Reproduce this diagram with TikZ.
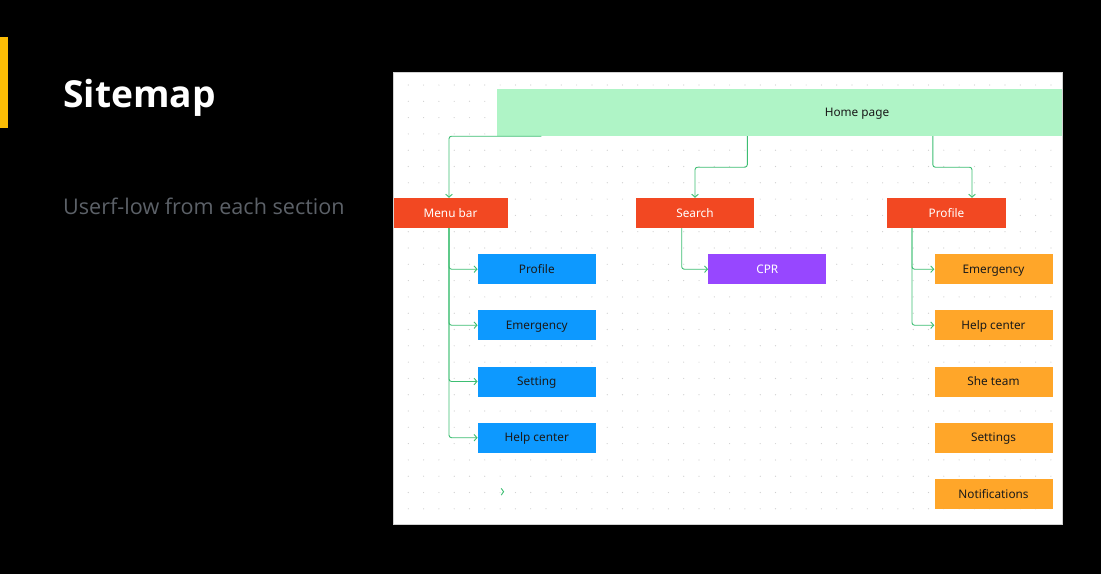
\documentclass[tikz,border=0pt]{standalone}
\usepackage{fontspec}
\setmainfont{Noto Sans}
\newfontfamily\titlefont{Open Sans}
\usetikzlibrary{arrows.meta}
\definecolor{accentbar}{HTML}{FBBC05}
\definecolor{subgray}{HTML}{5C6168}
\definecolor{gridgray}{HTML}{CFCFCF}
\definecolor{homegreen}{HTML}{AFF4C6}
\definecolor{headred}{HTML}{F24822}
\definecolor{itemblue}{HTML}{0D99FF}
\definecolor{itempurple}{HTML}{9747FF}
\definecolor{itemorange}{HTML}{FFA629}
\definecolor{linkgreen}{HTML}{3DBE72}
\definecolor{boxtext}{HTML}{1A1A1A}
\begin{document}
\begin{tikzpicture}[x=1pt,y=-1pt,
  box/.style={rectangle, inner sep=0pt, minimum width=118pt, minimum height=30pt,
    text height=8.4pt, text depth=0pt,
    font=\fontsize{11.8}{13}\selectfont, text=boxtext},
  head/.style={box, fill=headred, text=white, font=\fontsize{11.8}{13}\selectfont\bfseries},
  bluebox/.style={box, fill=itemblue},
  orangebox/.style={box, fill=itemorange},
  link/.style={draw=linkgreen, line width=0.9pt, rounded corners=2.5pt,
    -{Straight Barb[length=3pt,width=6.5pt]}},
]
\useasboundingbox (0,0) rectangle (1101,574);
\fill[black] (0,0) rectangle (1101,574);

% slide header
\fill[accentbar] (0,37) rectangle (8,128);
\node[anchor=base west, inner sep=0pt, text=white,
  font=\titlefont\fontsize{37.2}{40}\selectfont\bfseries] (title) at (63,107) {Sitemap};
\node[anchor=base west, inner sep=0pt, text=subgray,
  font=\titlefont\fontsize{21.6}{24}\selectfont] (subtitle) at (63,214) {Userf-low from each section};

% board
\fill[white] (393,72) rectangle (1062,524);
\begin{scope}
\clip (393,72) rectangle (1062,524);
\foreach \x in {408.3,423.6,...,1062}
  \foreach \y in {85,101.3,...,524}
    \fill[gridgray] (\x,\y) circle (0.6);

\node[box, fill=homegreen, minimum width=720pt, minimum height=47pt] (home) at (857,112.5) {Home page};

\node[head, minimum width=115pt] (menu) at (450.5,213) {Menu bar};
\node[head] (search) at (695,213) {Search};
\node[head, minimum width=118.7pt] (profile) at (946.5,213) {Profile};

\node[bluebox] (mprofile) at (536.8,269.2) {Profile};
\node[bluebox] (memerg) at (536.8,325.2) {Emergency};
\node[bluebox] (msetting) at (536.8,381.5) {Setting};
\node[bluebox] (mhelp) at (536.8,437.7) {Help center};

\node[box, fill=itempurple, text=white] (cpr) at (767.3,269.2) {CPR};

\node[orangebox] (pemerg) at (993.5,269.2) {Emergency};
\node[orangebox] (phelp) at (993.5,325.2) {Help center};
\node[orangebox] (pteam) at (993.5,381.5) {She team};
\node[orangebox] (psettings) at (993.5,437.7) {Settings};
\node[orangebox] (pnotif) at (993.5,493.8) {Notifications};

% links from the home page
\draw[link] ([xshift=44.5pt]home.south west) -| ([xshift=-1.5pt]menu.north);
\draw[link] ([xshift=250.5pt]home.south west) -- ++(0,31) -| (search.north);
\draw[link] ([xshift=436pt]home.south west) -- ++(0,31) -| ([xshift=25.5pt]profile.north);

% menu bar branches
\foreach \n in {mprofile,memerg,msetting,mhelp}
  \draw[link] ([xshift=-1.5pt]menu.south) |- (\n.west);

% search branch
\draw[link] ([xshift=-13.3pt]search.south) |- (cpr.west);

% profile branches
\foreach \n in {pemerg,phelp}
  \draw[link] ([xshift=-34.5pt]profile.south) |- (\n.west);

% loose arrow head on the board
\draw[linkgreen, line width=0.9pt] (501.2,488.3) -- (503.6,491.7) -- (501.2,495.1);
\end{scope}
\draw[gray!35, line width=0.6pt] (393,72) rectangle (1062,524);
\end{tikzpicture}
\end{document}
